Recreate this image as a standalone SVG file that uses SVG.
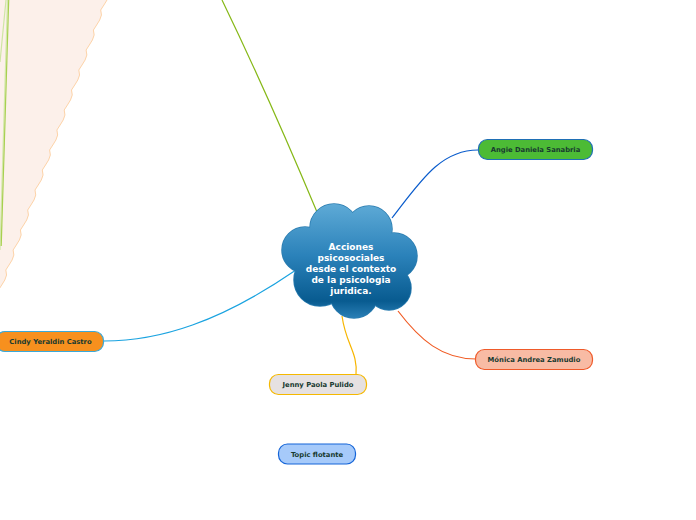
<svg xmlns="http://www.w3.org/2000/svg" width="696" height="520" viewBox="0 0 696 520">
<defs>
<linearGradient id="cg" gradientUnits="userSpaceOnUse" x1="0" y1="204" x2="0" y2="318">
<stop offset="0" stop-color="#5eaad6"/>
<stop offset="0.45" stop-color="#2b82ba"/>
<stop offset="0.85" stop-color="#085b90"/>
<stop offset="1" stop-color="#2a7fb6"/>
</linearGradient>
<style>
.node rect{stroke-width:1.2}
.node text{font-family:"DejaVu Sans",Verdana,sans-serif;font-weight:bold;font-size:6.8px;fill:#183a30;text-anchor:middle}
.conn path{fill:none;stroke-width:1.2}
.cl text{font-family:"DejaVu Sans",Verdana,sans-serif;font-weight:bold;font-size:9px;fill:#ffffff;text-anchor:middle}
</style>
</defs>
<rect width="696" height="520" fill="#ffffff"/>
<g id="sheet">
<path d="M-5,-10 L108,-10 q2,5 -1,10 q-3,5 -6.3,10 q2,5 -1,10 q-3,5 -6.3,10 q2,5 -1,10 q-3,5 -6.3,10 q2,5 -1,10 q-3,5 -6.3,10 q2,5 -1,10 q-3,5 -6.3,10 q2,5 -1,10 q-3,5 -6.3,10 q2,5 -1,10 q-3,5 -6.3,10 q2,5 -1,10 q-3,5 -6.3,10 q2,5 -1,10 q-3,5 -6.3,10 q2,5 -1,10 q-3,5 -6.3,10 q2,5 -1,10 q-3,5 -6.3,10 q2,5 -1,10 q-3,5 -6.3,10 q2,5 -1,10 q-3,5 -6.3,10 q2,5 -1,10 q-3,5 -6.3,10 q2,5 -1,10 q-3,5 -6.3,10 L-5,290 Z" fill="#fcf0ea" stroke="none"/>
<path d="M108,-10 q2,5 -1,10 q-3,5 -6.3,10 q2,5 -1,10 q-3,5 -6.3,10 q2,5 -1,10 q-3,5 -6.3,10 q2,5 -1,10 q-3,5 -6.3,10 q2,5 -1,10 q-3,5 -6.3,10 q2,5 -1,10 q-3,5 -6.3,10 q2,5 -1,10 q-3,5 -6.3,10 q2,5 -1,10 q-3,5 -6.3,10 q2,5 -1,10 q-3,5 -6.3,10 q2,5 -1,10 q-3,5 -6.3,10 q2,5 -1,10 q-3,5 -6.3,10 q2,5 -1,10 q-3,5 -6.3,10 q2,5 -1,10 q-3,5 -6.3,10 q2,5 -1,10 q-3,5 -6.3,10 q2,5 -1,10 q-3,5 -6.3,10" fill="none" stroke="#fdd3a8" stroke-width="1"/>
</g>
<g id="connectors" class="conn">
<path d="M6,0 L0,62" stroke="#cfe6a4"/>
<path d="M7.5,0 L0,250" stroke="#d3e8ab"/>
<path d="M8.7,0 L1.2,246" stroke="#a8d050" stroke-width="1.5"/>
<path d="M317,212 Q268,95 222,0" stroke="#86b817"/>
<path d="M392,218 C420,182 440,150 478,150" stroke="#0a5ccc"/>
<path d="M398,311 C420,340 442,359 476,359" stroke="#f05a22"/>
<path d="M342,316 C346,345 358,352 356,375" stroke="#f7b500"/>
<path d="M296,270 C220,322 160,341 104,341" stroke="#1aa3e0"/>
</g>
<g id="central" class="cl">
<g fill="url(#cg)" stroke="#2a7cb0" stroke-width="1.5">
<circle cx="334" cy="228" r="24"/>
<circle cx="369" cy="229" r="23"/>
<circle cx="394" cy="256" r="23"/>
<circle cx="389" cy="288" r="22"/>
<circle cx="354" cy="294" r="24"/>
<circle cx="320" cy="280" r="26"/>
<circle cx="305" cy="250" r="23"/>
</g>
<g fill="url(#cg)">
<circle cx="334" cy="228" r="24"/>
<circle cx="369" cy="229" r="23"/>
<circle cx="394" cy="256" r="23"/>
<circle cx="389" cy="288" r="22"/>
<circle cx="354" cy="294" r="24"/>
<circle cx="320" cy="280" r="26"/>
<circle cx="305" cy="250" r="23"/>
<circle cx="350" cy="260" r="40"/>
</g>
<text x="351" y="250">Acciones</text>
<text x="351" y="261">psicosociales</text>
<text x="351" y="272">desde el contexto</text>
<text x="351" y="283">de la psicologia</text>
<text x="351" y="294">juridica.</text>
</g>
<g id="angie" class="node">
<rect x="478.5" y="139.5" width="114" height="20" rx="9" fill="#4cbb35" stroke="#1f6fb5"/>
<text x="535.5" y="152">Angie Daniela Sanabria</text>
</g>
<g id="cindy" class="node">
<rect x="-4" y="331.5" width="107.5" height="20" rx="9" fill="#f7901e" stroke="#3aa9d9"/>
<text x="50.5" y="344">Cindy Yeraldin Castro</text>
</g>
<g id="jenny" class="node">
<rect x="269.5" y="374.5" width="97" height="20" rx="9" fill="#e6e1e1" stroke="#f5b800"/>
<text x="318" y="387">Jenny Paola Pulido</text>
</g>
<g id="monica" class="node">
<rect x="475.5" y="349.5" width="117" height="20" rx="9" fill="#f8bba4" stroke="#ef5a2a"/>
<text x="534" y="362">Mónica Andrea Zamudio</text>
</g>
<g id="topic" class="node">
<rect x="278.5" y="444" width="77" height="20" rx="9" fill="#a6cafa" stroke="#1565d8"/>
<text x="317" y="456.5">Topic flotante</text>
</g>
</svg>
